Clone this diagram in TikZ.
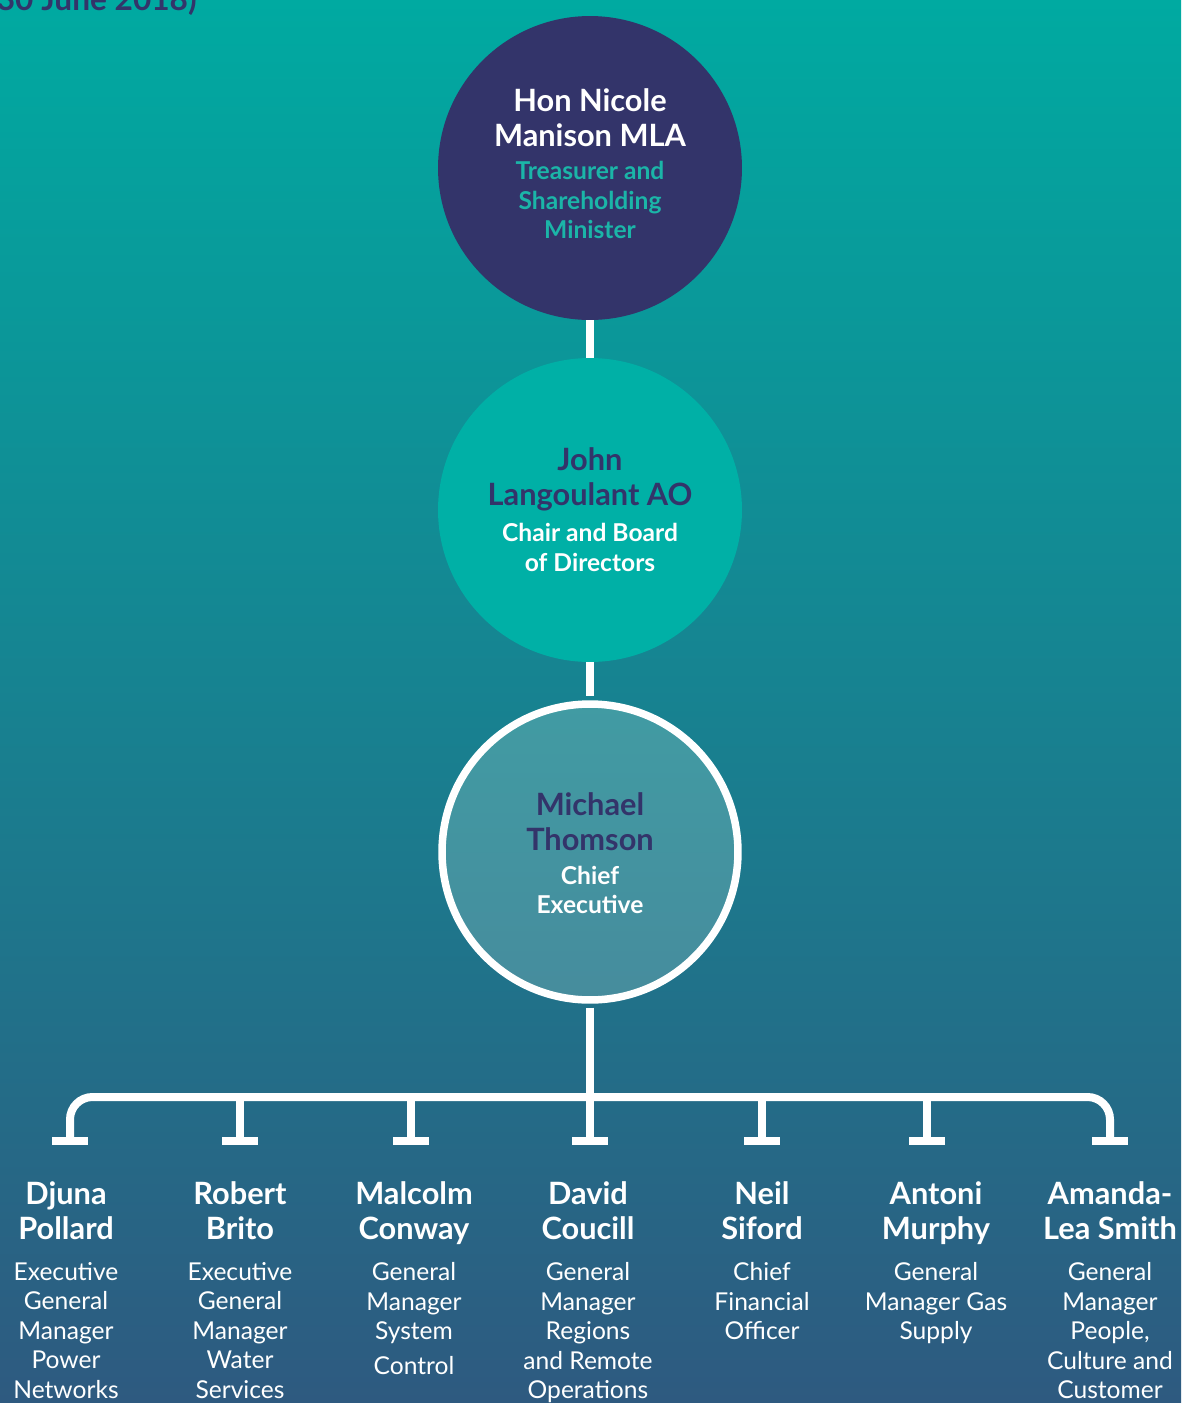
\documentclass[tikz,border=0pt]{standalone}
\usepackage{fontspec}
\setmainfont{Lato}
\usetikzlibrary{positioning}

\definecolor{navy}{HTML}{33346A}
\definecolor{mint}{HTML}{1BB5A8}
\definecolor{chairfill}{HTML}{00B0A6}
\definecolor{ceotop}{HTML}{419BA3}
\definecolor{ceobot}{HTML}{468C9D}
\definecolor{bgtop}{HTML}{00AAA1}
\definecolor{bgmid}{HTML}{1C8791}
\definecolor{bgbot}{HTML}{2E5A80}

\begin{document}
\begin{tikzpicture}[x=0.02cm, y=-0.02cm,
    person/.style={circle, minimum size=6.08cm, inner sep=0pt},
    link/.style={white, line width=0.16cm},
    bigname/.style={font=\bfseries\fontsize{17.5}{20}\selectfont, align=center, inner sep=0pt},
    smallrole/.style={font=\bfseries\fontsize{14}{16.8}\selectfont, align=center, inner sep=0pt},
    head/.style={font=\bfseries\fontsize{17.5}{20}\selectfont, white, align=center, inner sep=0pt},
    duty/.style={font=\fontsize{14}{16.8}\selectfont, white, align=center, inner sep=0pt}]
    \useasboundingbox (0,0) rectangle (1181,1403);
    \clip (0,0) rectangle (1181,1403);
    \shade[top color=bgtop, middle color=bgmid, bottom color=bgbot] (0,0) rectangle (1181,1403);

    % heading (cut by the page edge)
    \node (title) [anchor=base east, inner sep=0pt, navy,
        font=\bfseries\fontsize{18}{20}\selectfont] at (197,10) {(as at 30 June 2018)};

    % the three circles
    \node (minister) [person, fill=navy] at (590,168) {};
    \node (chair) [person, fill=chairfill] at (590,510) {};
    \node (ceo) [person, minimum size=5.92cm, draw=white, line width=0.15cm,
        top color=ceotop, bottom color=ceobot] at (590,852) {};

    \node (ministername) [bigname, white] at (590,117.5) {Hon Nicole\\Manison MLA};
    \node (ministerrole) [smallrole, mint] at (590,200) {Treasurer and\\Shareholding\\Minister};
    \node (chairname) [bigname, navy] at (590,479.5) {John\\Langoulant AO};
    \node (chairrole) [smallrole, white] at (590,547.5) {Chair and Board\\of Directors};
    \node (ceoname) [bigname, navy] at (590,821.5) {Michael\\Thomson};
    \node (ceorole) [smallrole, white] at (590,890) {Chief\\Executive};

    % Links
    \coordinate (bus) at (590,1097);
    \draw [link] (minister) -- (chair);
    \draw [link, shorten >=0.08cm] (chair) -- (ceo);
    \draw [link, shorten <=0.08cm] (ceo) -- (bus);
    \draw [link, rounded corners=0.45cm] (70,1141) |- (bus) -| (1110,1141);

    % direct reports
    \foreach \x/\s/\nm/\rl [count=\i] in {
        66/70/{Djuna\\Pollard}/{Executive\\General\\Manager\\Power\\Networks},
        240/240/{Robert\\Brito}/{Executive\\General\\Manager\\Water\\Services},
        414/411/{Malcolm\\Conway}/{General\\Manager\\System\\[3pt]Control},
        588/590/{David\\Coucill}/{General\\Manager\\Regions\\and Remote\\Operations},
        762/762/{Neil\\Siford}/{Chief\\Financial\\Officer},
        936/927/{Antoni\\Murphy}/{General\\Manager Gas\\Supply},
        1110/1110/{Amanda-\\Lea Smith}/{General\\Manager\\People,\\Culture and\\Customer}} {
        \node (head\i) [head, anchor=north] at (\x,1181) {\nm};
        \node (duty\i) [duty, anchor=north] at (\x,1262) {\rl};
        \coordinate (tee\i) at (\s,1141);
        \draw [link] ([xshift=-0.36cm]tee\i) -- ([xshift=0.36cm]tee\i);
    }
    \foreach \i in {2,...,6}
        \draw [link] (tee\i |- bus) -- (tee\i);
\end{tikzpicture}
\end{document}
